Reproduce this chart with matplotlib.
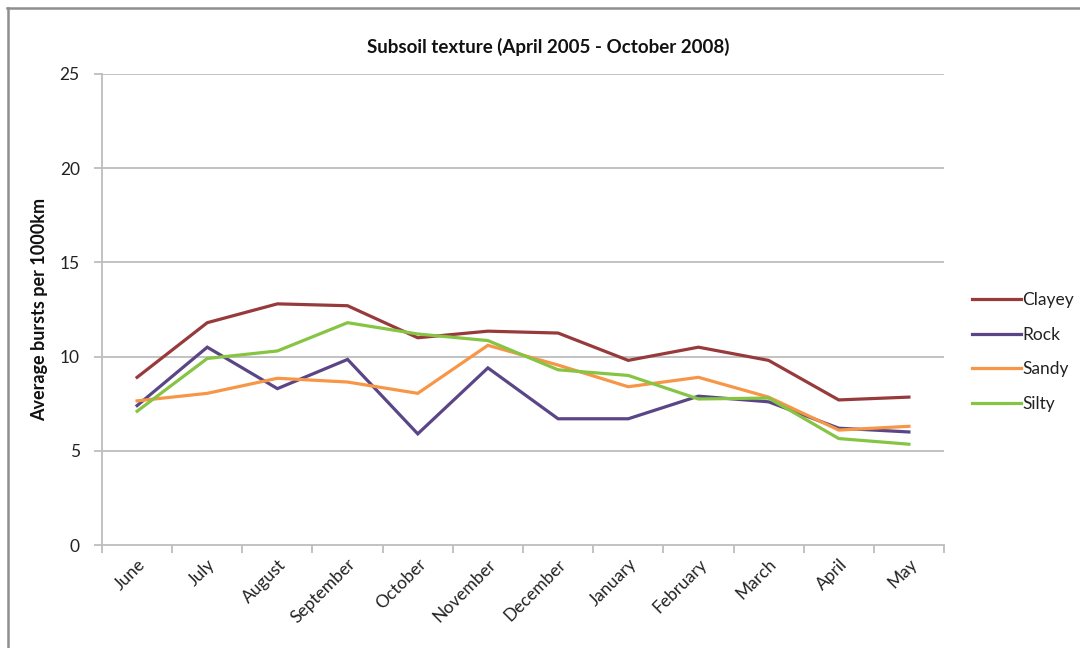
import matplotlib
matplotlib.use('Agg')
import matplotlib.pyplot as plt
from matplotlib.lines import Line2D
import numpy as np

plt.rcParams['font.family'] = ['Lato', 'DejaVu Sans']

months = ['June', 'July', 'August', 'September', 'October', 'November',
          'December', 'January', 'February', 'March', 'April', 'May']

clayey = [8.9, 11.8, 12.8, 12.7, 11.0, 11.35, 11.25, 9.8, 10.5, 9.8, 7.7, 7.85]
rock = [7.4, 10.5, 8.3, 9.85, 5.9, 9.4, 6.7, 6.7, 7.9, 7.6, 6.2, 6.0]
sandy = [7.65, 8.05, 8.85, 8.65, 8.05, 10.6, 9.55, 8.4, 8.9, 7.85, 6.1, 6.3]
silty = [7.1, 9.9, 10.3, 11.8, 11.2, 10.85, 9.3, 9.0, 7.75, 7.8, 5.65, 5.35]

series = [('Clayey', clayey, '#973a3c'),
          ('Rock', rock, '#5a4686'),
          ('Sandy', sandy, '#f79646'),
          ('Silty', silty, '#86c443')]

fig = plt.figure(figsize=(10.8, 6.48), dpi=100)
ax = fig.add_axes([102 / 1080, 1 - 545 / 648, (944 - 102) / 1080, (545 - 74) / 648])

x = np.arange(len(months))
for name, vals, color in series:
    ax.plot(x, vals, color=color, lw=2.3, label=name, solid_joinstyle='miter')

grid_c = '#bdbdbd'
ax.set_xlim(-0.5, len(months) - 0.5)
ax.set_ylim(0, 25)
ax.set_yticks([0, 5, 10, 15, 20, 25])
for yv in [5, 10, 15, 20, 25]:
    ax.axhline(yv, color=grid_c, lw=1.3, zorder=0)

ax.set_xticks(x)
ax.set_xticklabels(months, rotation=45, ha='right', rotation_mode='anchor',
                   fontsize=12.5, color='#222222')
ax.set_xticks(np.arange(-0.5, len(months)), minor=True)
ax.tick_params(axis='x', which='major', length=0, pad=8)
ax.tick_params(axis='x', which='minor', length=6, color=grid_c, width=1.3)
ax.tick_params(axis='y', length=6, color=grid_c, width=1.3, labelsize=12.5,
               labelcolor='#222222', pad=10)

for side in ['top', 'right']:
    ax.spines[side].set_visible(False)
for side in ['left', 'bottom']:
    ax.spines[side].set_color(grid_c)
    ax.spines[side].set_linewidth(1.3)

ax.set_ylabel('Average bursts per 1000km', fontsize=13, fontweight='bold',
              color='#111111', labelpad=8)
fig.text(0.508, 1 - 47 / 648, 'Subsoil texture (April 2005 - October 2008)',
         ha='center', va='center', fontsize=13.5, fontweight='bold', color='#111111')

handles = [Line2D([0], [0], color=c, lw=2.3) for _, _, c in series]
leg = fig.legend(handles, [s[0] for s in series], loc='upper left',
                 bbox_to_anchor=(965 / 1080, 1 - 285 / 648), frameon=False,
                 fontsize=12.5, handlelength=2.8, handletextpad=0.1,
                 labelspacing=1.08, borderaxespad=0)
for t in leg.get_texts():
    t.set_color('#222222')

# chart frame (top and left edges)
fig.add_artist(Line2D([7 / 1080, 1.0], [1 - 7.5 / 648, 1 - 7.5 / 648],
                      transform=fig.transFigure, color='#8f8f8f', lw=1.8))
fig.add_artist(Line2D([7.5 / 1080, 7.5 / 1080], [0.0, 1 - 7.5 / 648],
                      transform=fig.transFigure, color='#8f8f8f', lw=1.8))

fig.savefig('out.png', dpi=100, facecolor='white')
